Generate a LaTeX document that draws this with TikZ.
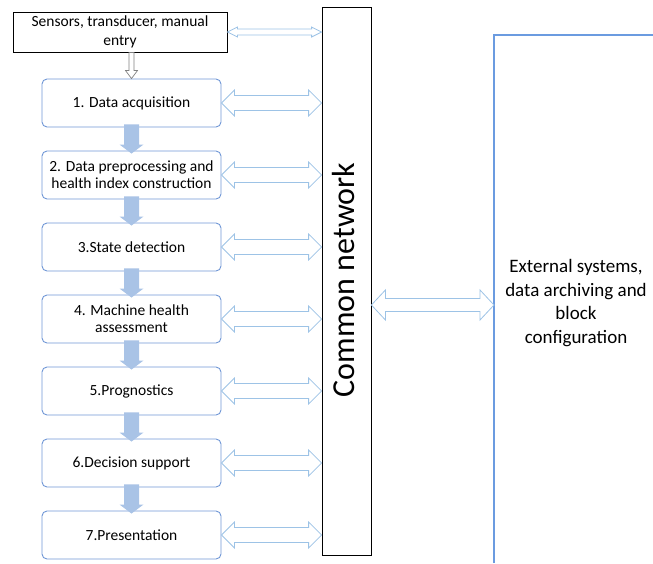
\documentclass[tikz,border=0pt]{standalone}
\usepackage{fontspec}
\setmainfont{Carlito}
\usetikzlibrary{positioning,calc}
\definecolor{BoxBlue}{HTML}{7097D6}
\definecolor{FlowBlue}{HTML}{A9C3E6}
\definecolor{LinkBlue}{HTML}{9DC3E6}
\definecolor{EdgeBlue}{HTML}{6B9BE0}

% two-headed block arrow: from, to, shaft half, head half, head length
\newcommand{\linkarrow}[5]{%
  \draw[link] let \p1=#1, \p2=#2 in
    (\x1,\y1) -- (\x1+#5,\y1+#4) -- (\x1+#5,\y1+#3) -- (\x2-#5,\y1+#3)
    -- (\x2-#5,\y1+#4) -- (\x2,\y1) -- (\x2-#5,\y1-#4) -- (\x2-#5,\y1-#3)
    -- (\x1+#5,\y1-#3) -- (\x1+#5,\y1-#4) -- cycle;}
% downward block arrow: style, from, to, shaft half, head half, head length
\newcommand{\flowarrow}[6]{%
  \path[#1] let \p1=#2, \p2=#3 in
    (\x1-#4,\y1) -- (\x1-#4,\y2+#6) -- (\x1-#5,\y2+#6) -- (\x1,\y2)
    -- (\x1+#5,\y2+#6) -- (\x1+#4,\y2+#6) -- (\x1+#4,\y1) -- cycle;}

\begin{document}
\begin{tikzpicture}[
  x=1pt,y=-1pt,
  node distance=23.1pt,
  stage/.style={draw=BoxBlue,line width=0.9pt,rounded corners=5pt,fill=white,minimum width=179pt,minimum height=48pt,align=center,font=\fontsize{15.5}{17}\selectfont},
  source/.style={draw=black,line width=0.8pt,fill=white,minimum width=214pt,minimum height=40pt,align=center,font=\fontsize{15.5}{19}\selectfont},
  bus/.style={draw=black,line width=0.8pt,minimum width=49pt,minimum height=548pt},
  link/.style={draw=LinkBlue,line width=0.8pt,fill=white},
  flow/.style={fill=FlowBlue},
  feed/.style={draw=gray,line width=0.7pt,fill=white}
]
\useasboundingbox (0,0) rectangle (653,563);
\node[source] (sens) at (120,32) {Sensors, transducer, manual\\entry};
\node[stage] (acq) at (131.5,103) {1. Data acquisition};
\node[stage,below=of acq] (pre) {2. Data preprocessing and\\health index construction};
\node[stage,below=of pre] (state) {3.State detection};
\node[stage,below=of state] (health) {4. Machine health\\assessment};
\node[stage,below=of health] (prog) {5.Prognostics};
\node[stage,below=of prog] (decide) {6.Decision support};
\node[stage,below=of decide] (show) {7.Presentation};
\node[bus] (net) at (346.5,281) {};
\node[rotate=90,font=\fontsize{32}{38}\selectfont] (netlabel) at (344,280) {Common network};
\draw[draw=EdgeBlue,line width=1.2pt] (494,563) -- (494,35) -- (653,35);
\coordinate (extedge) at (494,305);
\node[align=center,font=\fontsize{19}{23.5}\selectfont] (ext) at (576,303) {External systems,\\data archiving and\\block\\configuration};
% flow down the stages
\flowarrow{feed}{(sens.south -| acq.north)}{(acq.north)}{2.5pt}{6pt}{8pt}
\flowarrow{flow}{([yshift=3pt]acq.south)}{([yshift=-3pt]pre.north)}{7.5pt}{12pt}{9pt}
\flowarrow{flow}{([yshift=3pt]pre.south)}{([yshift=-3pt]state.north)}{7.5pt}{12pt}{9pt}
\flowarrow{flow}{([yshift=3pt]state.south)}{([yshift=-3pt]health.north)}{7.5pt}{12pt}{9pt}
\flowarrow{flow}{([yshift=3pt]health.south)}{([yshift=-3pt]prog.north)}{7.5pt}{12pt}{9pt}
\flowarrow{flow}{([yshift=3pt]prog.south)}{([yshift=-3pt]decide.north)}{7.5pt}{12pt}{9pt}
\flowarrow{flow}{([yshift=3pt]decide.south)}{([yshift=-3pt]show.north)}{7.5pt}{12pt}{9pt}
% links to the common network
\linkarrow{(sens.east)}{(sens.east -| net.west)}{3pt}{5pt}{10pt}
\linkarrow{(acq.east)}{(acq.east -| net.west)}{7.5pt}{13pt}{13pt}
\linkarrow{(pre.east)}{(pre.east -| net.west)}{7.5pt}{13pt}{13pt}
\linkarrow{(state.east)}{(state.east -| net.west)}{7.5pt}{13pt}{13pt}
\linkarrow{(health.east)}{(health.east -| net.west)}{7.5pt}{13pt}{13pt}
\linkarrow{(prog.east)}{(prog.east -| net.west)}{7.5pt}{13pt}{13pt}
\linkarrow{(decide.east)}{(decide.east -| net.west)}{7.5pt}{13pt}{13pt}
\linkarrow{(show.east)}{(show.east -| net.west)}{7.5pt}{13pt}{13pt}
\linkarrow{(net.east |- extedge)}{(extedge)}{6.5pt}{15pt}{14pt}
\end{tikzpicture}
\end{document}
